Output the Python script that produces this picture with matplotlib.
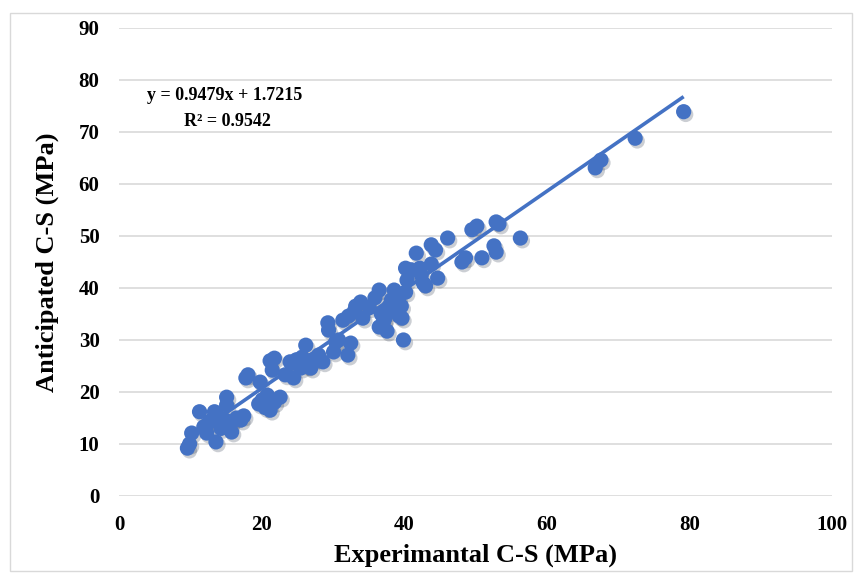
import numpy as np
import matplotlib
matplotlib.use("Agg")
from matplotlib import pyplot as plt
import matplotlib.patheffects as pe
from matplotlib.patches import Rectangle

exp_cs = [9.6, 9.9, 10.2, 11.3, 12.3, 11.9, 13.0, 13.6, 13.4, 14.0,
          15.1, 15.1, 14.9, 15.8, 15.6, 17.1, 17.5, 17.8, 18.1, 19.8,
          19.6, 20.1, 20.8, 21.2, 21.2, 21.8, 21.5, 22.6, 23.3, 24.0,
          24.5, 24.9, 25.5, 25.7, 26.2, 26.9, 27.2, 28.0, 28.6, 29.3,
          29.4, 30.1, 30.4, 30.8, 31.4, 32.2, 32.1, 32.5, 33.2, 33.9,
          34.2, 35.1, 35.9, 36.5, 36.5, 37.1, 37.3, 37.6, 37.9, 38.2,
          38.6, 39.2, 39.3, 39.7, 39.9, 39.6, 40.2, 40.4, 40.2, 41.0,
          41.7, 42.2, 42.4, 42.7, 43.0, 43.8, 43.8, 44.4, 44.7, 46.1,
          48.1, 48.6, 49.5, 50.2, 50.9, 52.6, 52.9, 53.3, 52.9, 56.3,
          66.8, 67.6, 72.4, 79.2,
          12.5, 14.3, 16.5, 20.5, 21.8, 24.2, 26.5, 36.8, 38.0, 33.0]
ant_cs = [9.2, 10.0, 12.1, 16.2, 12.1, 13.3, 14.6, 10.4, 16.2, 15.2,
          19.0, 17.5, 14.6, 12.3, 13.7, 14.6, 15.4, 22.7, 23.3, 21.9,
          17.7, 18.5, 19.4, 16.5, 26.0, 26.5, 24.2, 19.0, 23.3, 25.8,
          22.7, 26.2, 24.6, 26.7, 29.0, 24.6, 26.2, 27.1, 25.8, 33.3,
          31.9, 27.7, 29.6, 30.0, 33.8, 34.6, 27.1, 29.4, 36.5, 37.3,
          34.2, 36.2, 38.1, 39.6, 32.5, 33.5, 34.2, 31.7, 36.5, 37.7,
          39.6, 37.7, 34.6, 34.2, 30.0, 36.5, 43.8, 41.5, 39.2, 43.5,
          46.7, 43.8, 42.5, 40.9, 40.4, 44.6, 48.3, 47.3, 41.9, 49.6,
          45.0, 45.8, 51.2, 51.9, 45.8, 48.1, 52.7, 52.3, 46.9, 49.6,
          63.1, 64.6, 68.8, 73.9,
          14.0, 13.0, 15.0, 17.0, 18.0, 25.5, 25.0, 35.0, 35.5, 35.5]

slope = 0.9479
intercept = 1.7215

blue = "#4472C4"
plt.rcParams["font.family"] = ["Liberation Serif", "DejaVu Serif"]
plt.rcParams["font.weight"] = "bold"

fig = plt.figure(figsize=(8.59, 5.77), dpi=100)
ax = fig.add_axes([0.1385, 0.1404, 0.83, 0.8111])

ax.scatter(exp_cs, ant_cs, s=120, color=blue, zorder=3, linewidths=0,
           path_effects=[pe.SimplePatchShadow(offset=(1.5, -2), alpha=0.22),
                         pe.Normal()])

xl = np.array([min(exp_cs), max(exp_cs)])
ax.plot(xl, slope * xl + intercept, color=blue, lw=2.6, zorder=4,
        solid_capstyle="butt")

ax.set_xlim(0, 100)
ax.set_ylim(0, 90)
ax.set_xticks(range(0, 101, 20))
ax.set_yticks(range(0, 91, 10))
ax.grid(axis="y", color="#d9d9d9", lw=1.2, zorder=0)
for s in ax.spines.values():
    s.set_visible(False)
ax.tick_params(axis="x", length=0, labelsize=15, pad=14)
ax.tick_params(axis="y", length=0, labelsize=15, pad=14)
for lab in ax.get_xticklabels() + ax.get_yticklabels():
    lab.set_fontweight("bold")

ax.set_xlabel("Experimantal C-S (MPa)", fontsize=19, fontweight="bold", labelpad=6)
ax.set_ylabel("Anticipated C-S (MPa)", fontsize=19, fontweight="bold", labelpad=14)

ax.text(0.0395, 0.855, "y = 0.9479x + 1.7215", transform=ax.transAxes,
        fontsize=13, fontweight="bold", ha="left", va="center")
ax.text(0.091, 0.8, "R² = 0.9542", transform=ax.transAxes,
        fontsize=13, fontweight="bold", ha="left", va="center")

fig.patches.append(Rectangle((10 / 859, 6 / 577), 842 / 859, 558 / 577,
                             transform=fig.transFigure, fill=False,
                             edgecolor="#d9d9d9", lw=1))

fig.savefig("out.png", dpi=100)
